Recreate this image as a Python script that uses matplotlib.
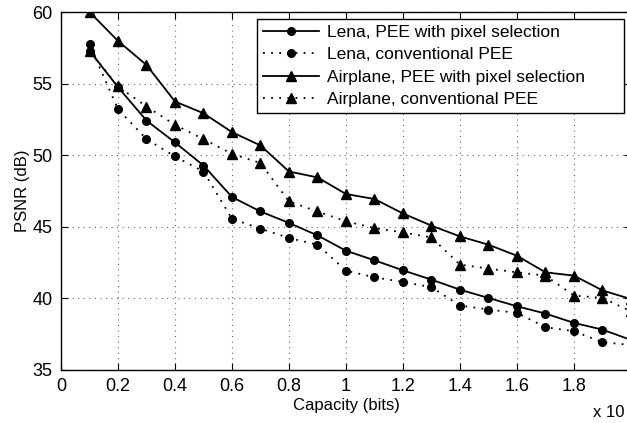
import matplotlib
matplotlib.use('Agg')
import matplotlib.pyplot as plt
import numpy as np
from matplotlib.ticker import FuncFormatter

plt.rcParams['font.family'] = ['Liberation Sans', 'DejaVu Sans']

capacity = [0.1, 0.2, 0.3, 0.4, 0.5, 0.6, 0.7, 0.8, 0.9, 1.0,
            1.1, 1.2, 1.3, 1.4, 1.5, 1.6, 1.7, 1.8, 1.9, 2.0]

lena_sel = [57.3, 54.75, 52.42, 50.89, 49.28, 47.08, 46.07, 45.27, 44.4, 43.33,
            42.66, 41.96, 41.31, 40.61, 40.03, 39.45, 38.94, 38.29, 37.82, 37.1]
lena_conv = [57.75, 53.21, 51.12, 49.91, 48.86, 45.56, 44.87, 44.22, 43.75, 41.94,
             41.47, 41.15, 40.78, 39.5, 39.22, 38.99, 37.99, 37.71, 36.94, 36.75]
airplane_sel = [60.0, 57.98, 56.3, 53.75, 52.93, 51.61, 50.68, 48.86, 48.45, 47.29,
                46.94, 45.93, 45.08, 44.33, 43.75, 42.98, 41.82, 41.59, 40.56, 39.95]
airplane_conv = [57.3, 54.8, 53.4, 52.12, 51.12, 50.1, 49.45, 46.77, 46.07, 45.38,
                 44.91, 44.61, 44.26, 42.36, 42.08, 41.82, 41.59, 40.2, 40.03, 39.1]

labels = ['Lena, PEE with pixel selection', 'Lena, conventional PEE',
          'Airplane, PEE with pixel selection', 'Airplane, conventional PEE']

dotted = (0, (1, 3.5))

fig = plt.figure(figsize=(6.27, 4.23), dpi=100)
ax = fig.add_axes([0.0973, 0.1253, 0.909, 0.8463])

ax.plot(capacity, lena_sel, color='k', ls='-', marker='o', markersize=5.5, lw=1.3, label=labels[0])
ax.plot(capacity, lena_conv, color='k', ls=dotted, marker='o', markersize=5.5, lw=1.3, label=labels[1])
ax.plot(capacity, airplane_sel, color='k', ls='-', marker='^', markersize=7, lw=1.3, label=labels[2])
ax.plot(capacity, airplane_conv, color='k', ls=dotted, marker='^', markersize=7, lw=1.3, label=labels[3])

ax.set_xlim(0, 2)
ax.set_ylim(35, 60)
ax.set_xticks(np.arange(0, 2.01, 0.2))
ax.set_yticks([35, 40, 45, 50, 55, 60])
# the label for 2 falls outside the cropped picture
ax.xaxis.set_major_formatter(FuncFormatter(lambda v, p: '' if v > 1.95 else '%g' % round(v, 2)))
ax.tick_params(direction='in', top=True, right=True, labelsize=13, length=5, pad=6)
ax.grid(True, linestyle=(0, (1, 4)), color='#666666', lw=0.8)
for s in ax.spines.values():
    s.set_linewidth(1.0)

ax.set_xlabel('Capacity (bits)', fontsize=12, labelpad=2)
ax.set_ylabel('PSNR (dB)', fontsize=12, labelpad=2)

leg = ax.legend(loc='upper left', bbox_to_anchor=(0.344, 0.726, 0.644, 0.254), mode='expand',
                fontsize=12.5, fancybox=False, framealpha=1, edgecolor='black',
                handlelength=3.2, borderpad=0.35, labelspacing=0.4, handletextpad=0.45,
                borderaxespad=0)
leg.get_frame().set_linewidth(1.0)

fig.text(593 / 627, 1 - 412 / 423, 'x 10', fontsize=12, va='center', ha='left')

fig.savefig('out.png', dpi=100)
